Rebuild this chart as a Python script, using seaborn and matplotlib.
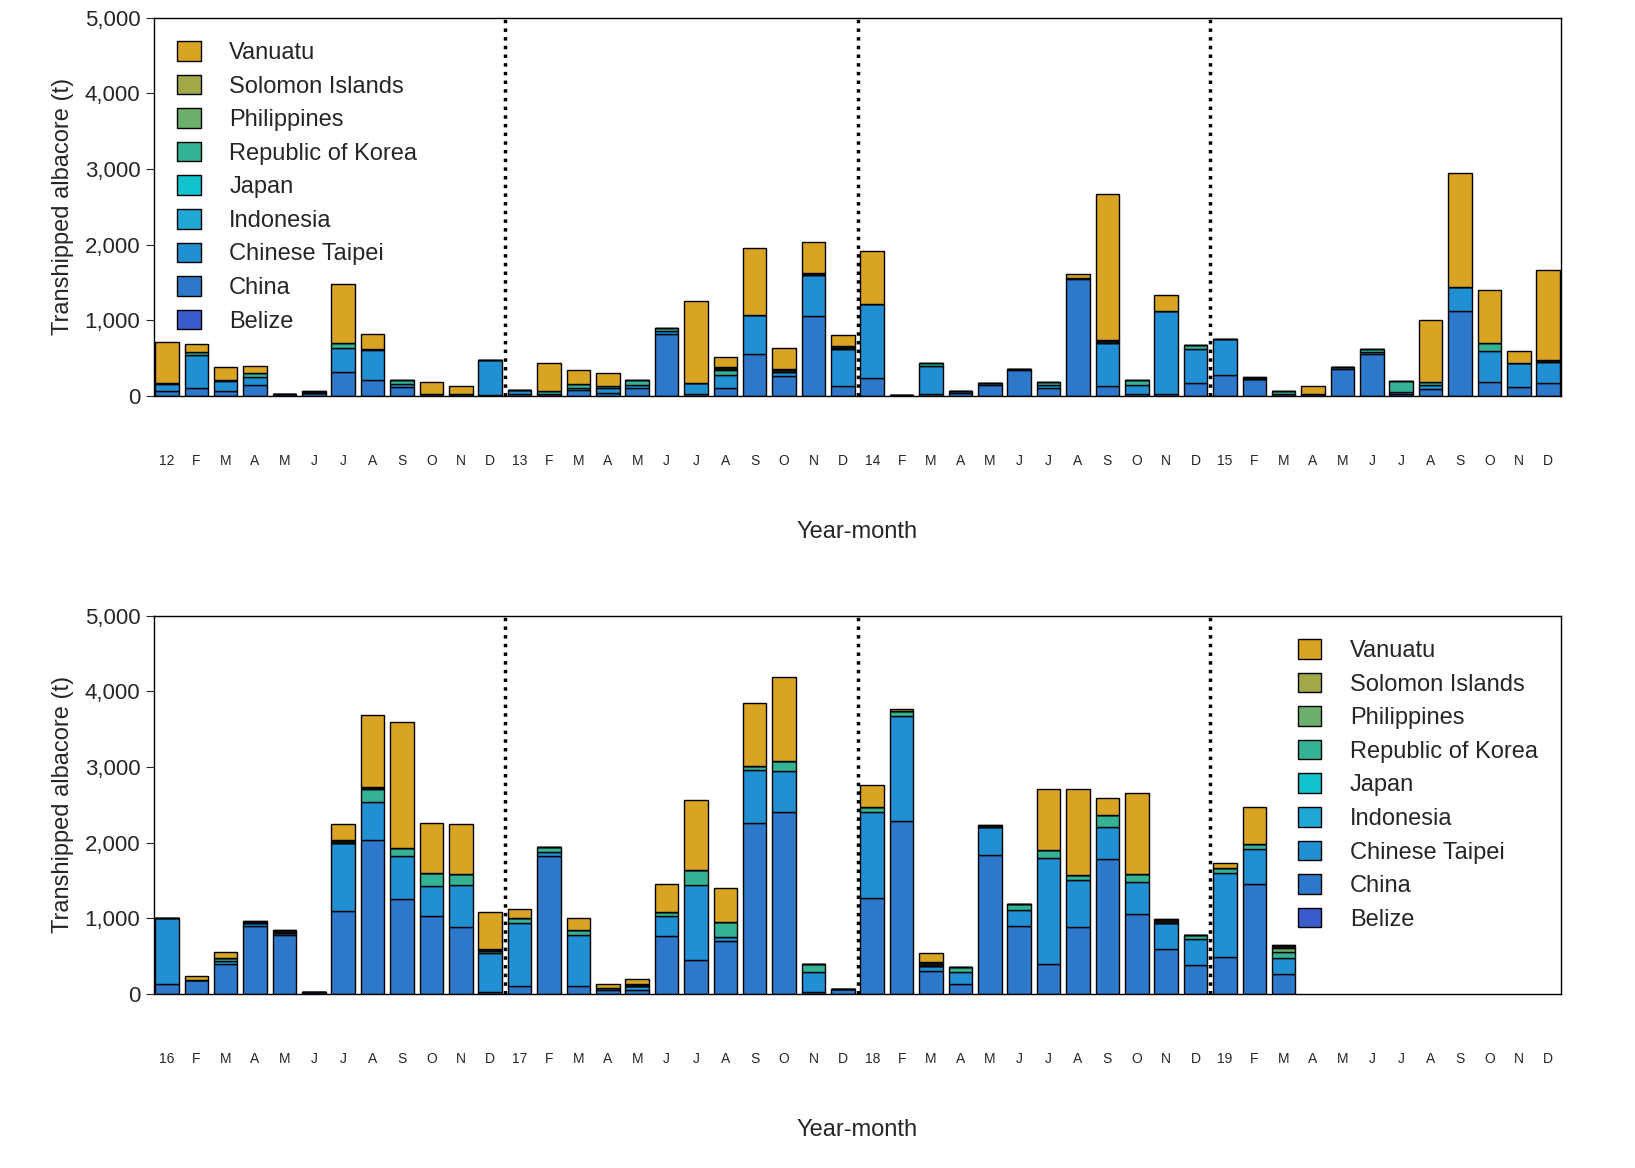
import pandas as pd
import seaborn as sns
import matplotlib.pyplot as plt
from matplotlib.patches import Patch
from matplotlib.ticker import FuncFormatter

months = ['J', 'F', 'M', 'A', 'M', 'J', 'J', 'A', 'S', 'O', 'N', 'D']
labels_top = ['12'] + months[1:] + ['13'] + months[1:] + ['14'] + months[1:] + ['15'] + months[1:]
labels_bot = ['16'] + months[1:] + ['17'] + months[1:] + ['18'] + months[1:] + ['19'] + months[1:]

# tonnes per month, 2012-2015
china_a = [60, 100, 60, 150, 30, 40, 320, 210, 120, 20, 20, 10,
           30, 30, 80, 40, 100, 820, 20, 100, 560, 270, 1050, 130,
           240, 10, 20, 40, 150, 340, 100, 1540, 130, 30, 20, 170,
           280, 220, 20, 20, 360, 560, 20, 90, 1120, 190, 120, 170]
taipei_a = [100, 440, 140, 100, 0, 0, 320, 400, 40, 0, 0, 460,
            50, 0, 20, 60, 50, 40, 150, 180, 510, 50, 550, 490,
            980, 0, 370, 20, 20, 20, 40, 20, 570, 120, 1100, 450,
            470, 0, 0, 0, 20, 20, 30, 60, 320, 400, 310, 280]
korea_a = [10, 40, 10, 50, 0, 0, 60, 10, 50, 0, 0, 0,
           0, 30, 60, 30, 60, 40, 0, 60, 0, 0, 0, 0,
           0, 0, 40, 0, 0, 0, 50, 0, 0, 60, 0, 50,
           0, 0, 40, 0, 0, 40, 150, 40, 0, 110, 0, 0]
other_a = [0, 0, 0, 0, 0, 20, 0, 0, 0, 0, 0, 0,
           0, 0, 0, 0, 0, 0, 0, 40, 0, 30, 30, 40,
           0, 0, 0, 0, 0, 0, 0, 0, 40, 0, 0, 0,
           0, 30, 0, 0, 0, 0, 0, 0, 0, 0, 0, 30]
vanuatu_a = [540, 110, 170, 100, 0, 0, 780, 200, 0, 170, 110, 0,
             0, 370, 180, 170, 0, 0, 1080, 130, 890, 280, 410, 140,
             700, 0, 0, 0, 0, 0, 0, 50, 1930, 0, 220, 0,
             0, 0, 0, 110, 0, 0, 0, 820, 1510, 700, 170, 1180]

# tonnes per month, 2016-2019
china_b = [130, 190, 390, 900, 780, 20, 1090, 2030, 1260, 1030, 880, 30,
           110, 1820, 100, 50, 50, 770, 450, 700, 2260, 2400, 20, 60,
           1270, 2290, 300, 130, 1840, 900, 390, 880, 1780, 1050, 600, 380,
           490, 1450, 260, 0, 0, 0, 0, 0, 0, 0, 0, 0]
taipei_b = [870, 0, 50, 40, 20, 0, 900, 500, 560, 400, 560, 510,
            830, 60, 680, 30, 50, 260, 990, 50, 700, 550, 270, 0,
            1130, 1380, 70, 160, 370, 210, 1410, 620, 420, 430, 340, 350,
            1110, 460, 220, 0, 0, 0, 0, 0, 0, 0, 0, 0]
korea_b = [0, 0, 40, 0, 0, 0, 0, 180, 110, 170, 150, 30,
           70, 60, 60, 0, 0, 50, 200, 200, 50, 130, 100, 0,
           70, 70, 0, 60, 0, 80, 100, 70, 170, 110, 0, 50,
           60, 70, 80, 0, 0, 0, 0, 0, 0, 0, 0, 0]
phil_b = [0] * 38 + [50] + [0] * 9
other_b = [0, 0, 0, 30, 40, 0, 50, 30, 0, 0, 0, 30,
           0, 0, 0, 0, 30, 0, 0, 0, 0, 0, 0, 0,
           0, 0, 50, 0, 20, 0, 0, 0, 0, 0, 50, 0,
           0, 0, 40, 0, 0, 0, 0, 0, 0, 0, 0, 0]
vanuatu_b = [0, 50, 80, 0, 0, 0, 200, 940, 1660, 660, 650, 480,
             110, 0, 170, 50, 70, 370, 920, 450, 840, 1110, 0, 0,
             290, 30, 120, 0, 0, 0, 810, 1140, 220, 1070, 0, 0,
             70, 490, 0, 0, 0, 0, 0, 0, 0, 0, 0, 0]

legend_flags = ['Vanuatu', 'Solomon Islands', 'Philippines', 'Republic of Korea',
                'Japan', 'Indonesia', 'Chinese Taipei', 'China', 'Belize']
colors = {'Vanuatu': '#d9a324', 'Other': '#111111', 'Solomon Islands': '#a0a848',
          'Philippines': '#6cb06c', 'Republic of Korea': '#34b394', 'Japan': '#12c2cc',
          'Indonesia': '#1fa8d3', 'Chinese Taipei': '#2190d2', 'China': '#2e78cc',
          'Belize': '#3b5ccc'}
hue_order = ['Vanuatu', 'Other', 'Solomon Islands', 'Philippines', 'Republic of Korea',
             'Japan', 'Indonesia', 'Chinese Taipei', 'China', 'Belize']


def make_long(series):
    rows = []
    for flag, vals in series.items():
        for i, v in enumerate(vals):
            if v > 0:
                rows.append({'idx': i, 'flag': flag, 'tonnes': v})
    return pd.DataFrame(rows)


top = make_long({'China': china_a, 'Chinese Taipei': taipei_a, 'Republic of Korea': korea_a,
                 'Other': other_a, 'Vanuatu': vanuatu_a})
bot = make_long({'China': china_b, 'Chinese Taipei': taipei_b, 'Republic of Korea': korea_b,
                 'Philippines': phil_b, 'Other': other_b, 'Vanuatu': vanuatu_b})

sns.set_style('white')
plt.rcParams['font.family'] = ['Liberation Sans', 'DejaVu Sans']

fig = plt.figure(figsize=(16.35, 11.68), dpi=100)
ax1 = fig.add_axes([0.094, 0.661, 0.861, 0.324])
ax2 = fig.add_axes([0.094, 0.149, 0.861, 0.324])

handles = [Patch(facecolor=colors[f], edgecolor='black', label=f) for f in legend_flags]

for ax, df, labs, loc in [(ax1, top, labels_top, 'upper left'), (ax2, bot, labels_bot, 'upper right')]:
    present = [h for h in hue_order if h in df['flag'].unique()]
    sns.histplot(data=df, x='idx', weights='tonnes', hue='flag', hue_order=present,
                 palette=colors, multiple='stack', discrete=True, shrink=0.8,
                 edgecolor='black', linewidth=1, alpha=1, legend=False, ax=ax)
    for xv in [11.5, 23.5, 35.5]:
        ax.axvline(xv, color='black', linestyle=(0, (1, 1.5)), linewidth=2.5)
    ax.set_xlim(-0.45, 47.45)
    ax.set_ylim(0, 5000)
    ax.set_yticks([0, 1000, 2000, 3000, 4000, 5000])
    ax.yaxis.set_major_formatter(FuncFormatter(lambda v, p: f'{int(v):,}'))
    ax.set_xticks(range(48))
    ax.set_xticklabels(labs, fontsize=10)
    ax.tick_params(axis='x', length=0, pad=42)
    ax.tick_params(axis='y', left=True, length=6, labelsize=16)
    ax.set_xlabel('Year-month', fontsize=17, labelpad=38)
    ax.set_ylabel('Transhipped albacore (t)', fontsize=17, labelpad=8)
    for s in ax.spines.values():
        s.set_color('black')
        s.set_linewidth(1)
    ax.legend(handles=handles, loc=loc, frameon=False, fontsize=17,
              handlelength=1.0, handleheight=0.9, labelspacing=0.45,
              handletextpad=1.2, borderaxespad=0.6)

fig.savefig('out.png', dpi=100)
